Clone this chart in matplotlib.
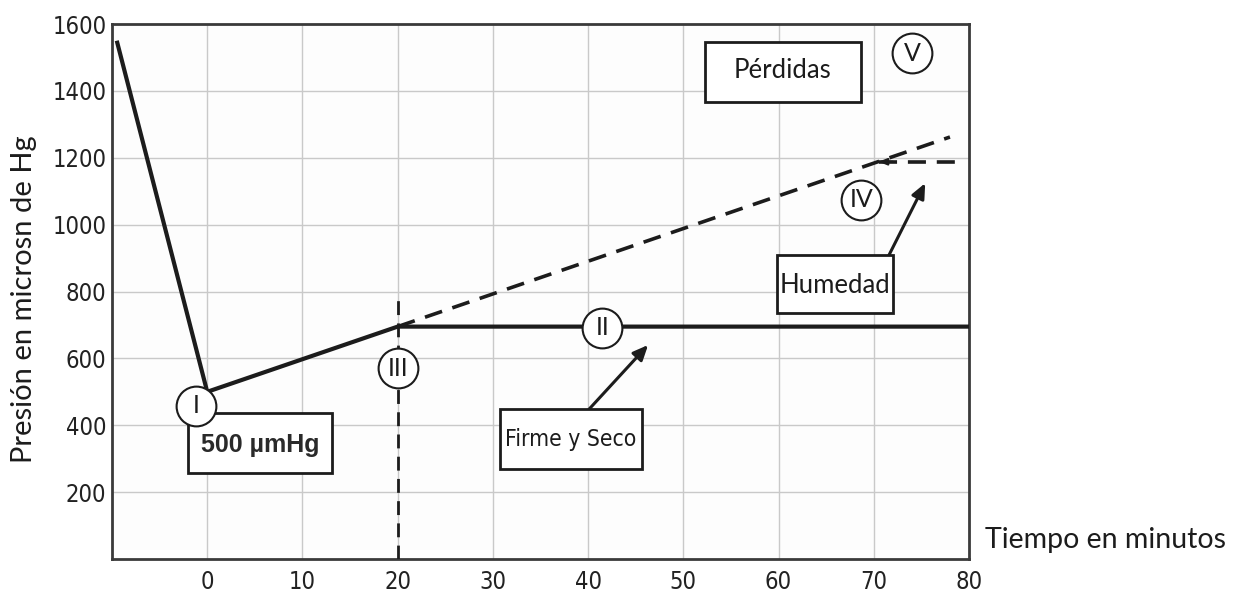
import matplotlib
matplotlib.use("Agg")
import matplotlib.pyplot as plt
from matplotlib.patches import Rectangle

# ---- data ----
main_x = [-9.5, 0, 20, 80]
main_y = [1550, 500, 695, 695]
loss_x = [20, 78]
loss_y = [695, 1262]
moist_x = [70.5, 79.5]
moist_y = [1188, 1188]
vline_x = [20, 20]
vline_y = [0, 775]

x_ticks = [0, 10, 20, 30, 40, 50, 60, 70, 80]
y_ticks = [200, 400, 600, 800, 1000, 1200, 1400, 1600]

stage_labels = ["I", "III", "II", "IV", "V"]
stage_x = [-1.2, 20, 41.5, 68.7, 74]
stage_y = [458, 571, 691, 1074, 1513]

box_texts = ["500 µmHg", "Firme y Seco", "Humedad", "Pérdidas"]

W, H = 1239, 596
fig = plt.figure(figsize=(W / 100, H / 100), dpi=100)
ax = fig.add_axes([112 / W, (H - 559) / H, (969 - 112) / W, (559 - 24) / H])
ax.set_facecolor("#fdfdfd")
ax.set_xlim(-10, 80)
ax.set_ylim(0, 1600)
ax.set_xticks(x_ticks)
ax.set_yticks(y_ticks)
ax.grid(True, color="#c9c9c9", lw=1.0, zorder=0)
ax.set_axisbelow(True)
ax.tick_params(length=0)
ax.tick_params(axis="y", pad=4)
ax.tick_params(axis="x", pad=8)
tick_font = dict(family="DejaVu Sans", fontstretch="condensed", size=17, color="#222222")
ax.set_xticklabels([str(t) for t in x_ticks], **tick_font)
ax.set_yticklabels([str(t) for t in y_ticks], **tick_font)
for sp in ax.spines.values():
    sp.set_color("#3a3a3a")
    sp.set_linewidth(2)

ink = "#1c1c1c"
ax.plot(main_x, main_y, color=ink, lw=3, zorder=3, solid_capstyle="butt")
ax.plot(loss_x, loss_y, color=ink, lw=2.6, ls=(0, (5, 3)), zorder=3)
ax.plot(moist_x, moist_y, color=ink, lw=2.6, ls=(0, (5, 3)), zorder=3)
ax.annotate("", xy=(moist_x[0], moist_y[0]), xytext=(moist_x[0] + 1.5, moist_y[0]),
            arrowprops=dict(arrowstyle="-|>,head_length=0.5,head_width=0.2", color=ink, lw=1.5,
                            shrinkA=0, shrinkB=0), zorder=3)
ax.plot(vline_x, vline_y, color=ink, lw=2, ls=(0, (5, 3)), zorder=3)

gill = ["Lato", "DejaVu Sans"]

def box(x0, y0, w, h, z=4):
    ax.add_patch(Rectangle((x0, y0), w, h, facecolor="white", edgecolor=ink, lw=2, zorder=z))

# arrows
arrow_kw = dict(arrowstyle="-|>,head_length=0.9,head_width=0.4", color=ink, lw=2.2,
                shrinkA=0, shrinkB=0)
ax.annotate("", xy=(46.3, 640), xytext=(40.1, 448), arrowprops=arrow_kw, zorder=3)
ax.annotate("", xy=(75.4, 1124), xytext=(71.6, 909), arrowprops=arrow_kw, zorder=3)

# 500 µmHg box
box(-2.02, 257, 15.12, 179.4)
ax.text(5.54, 340, box_texts[0], ha="center", va="center", fontsize=18, fontweight="bold",
        family=["Liberation Sans", "DejaVu Sans"], color="#2a2a2a", zorder=5)
# Firme y Seco
box(30.75, 269, 14.91, 179)
ax.text(38.2, 356, box_texts[1], ha="center", va="center", fontsize=16.5,
        family="DejaVu Sans", fontstretch="condensed", color=ink, zorder=5)
# Humedad
box(59.84, 735.7, 12.18, 173)
ax.text(65.9, 818, box_texts[2], ha="center", va="center", fontsize=18.5, family=gill,
        color=ink, zorder=5)
# Pérdidas
box(52.28, 1366.8, 16.38, 179)
ax.text(60.45, 1460, box_texts[3], ha="center", va="center", fontsize=18.5, family=gill,
        color=ink, zorder=5)

# stage circles
ax.scatter(stage_x, stage_y, s=820, facecolor="white", edgecolor=ink, lw=1.5, zorder=6)
for lab, x, y in zip(stage_labels, stage_x, stage_y):
    ax.text(x, y, lab, ha="center", va="center", fontsize=18, family=gill,
            color=ink, zorder=7)

ax.set_ylabel("Presión en microsn de Hg", fontsize=21, family=gill, color=ink)
ax.yaxis.set_label_coords(-0.088, 0.485)
fig.text(985 / W, 1 - 540 / H, "Tiempo en minutos", fontsize=20.5, family=gill, color=ink,
         ha="left", va="center")

fig.savefig("out.png", dpi=100)
